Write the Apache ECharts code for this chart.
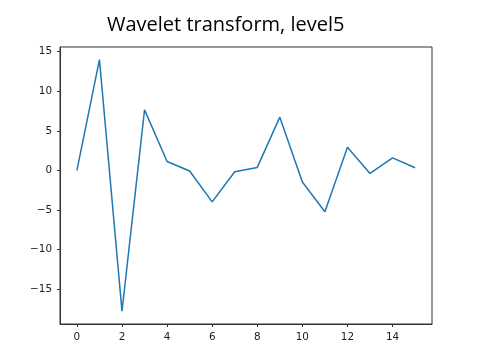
<!DOCTYPE html>
<html><head><meta charset="utf-8">
<script src="https://cdn.jsdelivr.net/npm/echarts@6/dist/echarts.min.js"></script>
<style>html,body{margin:0;padding:0;background:#fff}#c{width:480px;height:364px}</style>
</head><body><div id="c"></div>
<script>
const xValues = [0,1,2,3,4,5,6,7,8,9,10,11,12,13,14,15];
const yValues = [0, 14.0, -17.78, 7.65, 1.13, -0.08, -3.97, -0.17, 0.38, 6.73, -1.46, -5.23, 2.93, -0.38, 1.59, 0.33];
const xTicks = [0,2,4,6,8,10,12,14];
const yTicks = [-15,-10,-5,0,5,10,15];
const titleText = 'Wavelet transform, level5';

const fmt = v => v < 0 ? '\u2212' + Math.abs(v) : String(v);
const chart = echarts.init(document.getElementById('c'), null, {renderer:'canvas'});
chart.setOption({
  animation:false,
  title:{text:titleText,left:102,top:10,
    textStyle:{fontFamily:'Open Sans',fontWeight:'normal',fontSize:20,color:'#000'}},
  grid:{left:60,right:48,top:47,bottom:40,show:true,borderColor:'#333',borderWidth:1,backgroundColor:'transparent'},
  xAxis:{type:'value',min:-0.75,max:15.75,
    axisLine:{show:true,onZero:false,lineStyle:{color:'#333'}},splitLine:{show:false},
    axisTick:{show:true,length:3,customValues:xTicks,lineStyle:{color:'#333'}},
    axisLabel:{customValues:xTicks,formatter:fmt,fontFamily:'DejaVu Sans',fontSize:10.4,color:'#222',margin:8}},
  yAxis:{type:'value',min:-19.4,max:15.59,
    axisLine:{show:true,onZero:false,lineStyle:{color:'#333'}},splitLine:{show:false},
    axisTick:{show:true,length:3,customValues:yTicks,lineStyle:{color:'#333'}},
    axisLabel:{customValues:yTicks,formatter:fmt,fontFamily:'DejaVu Sans',fontSize:10.4,color:'#222',margin:8}},
  series:[{type:'line',data:xValues.map((x,i)=>[x,yValues[i]]),showSymbol:false,
    lineStyle:{color:'#1f77b4',width:1.5}}]
});
</script></body></html>
